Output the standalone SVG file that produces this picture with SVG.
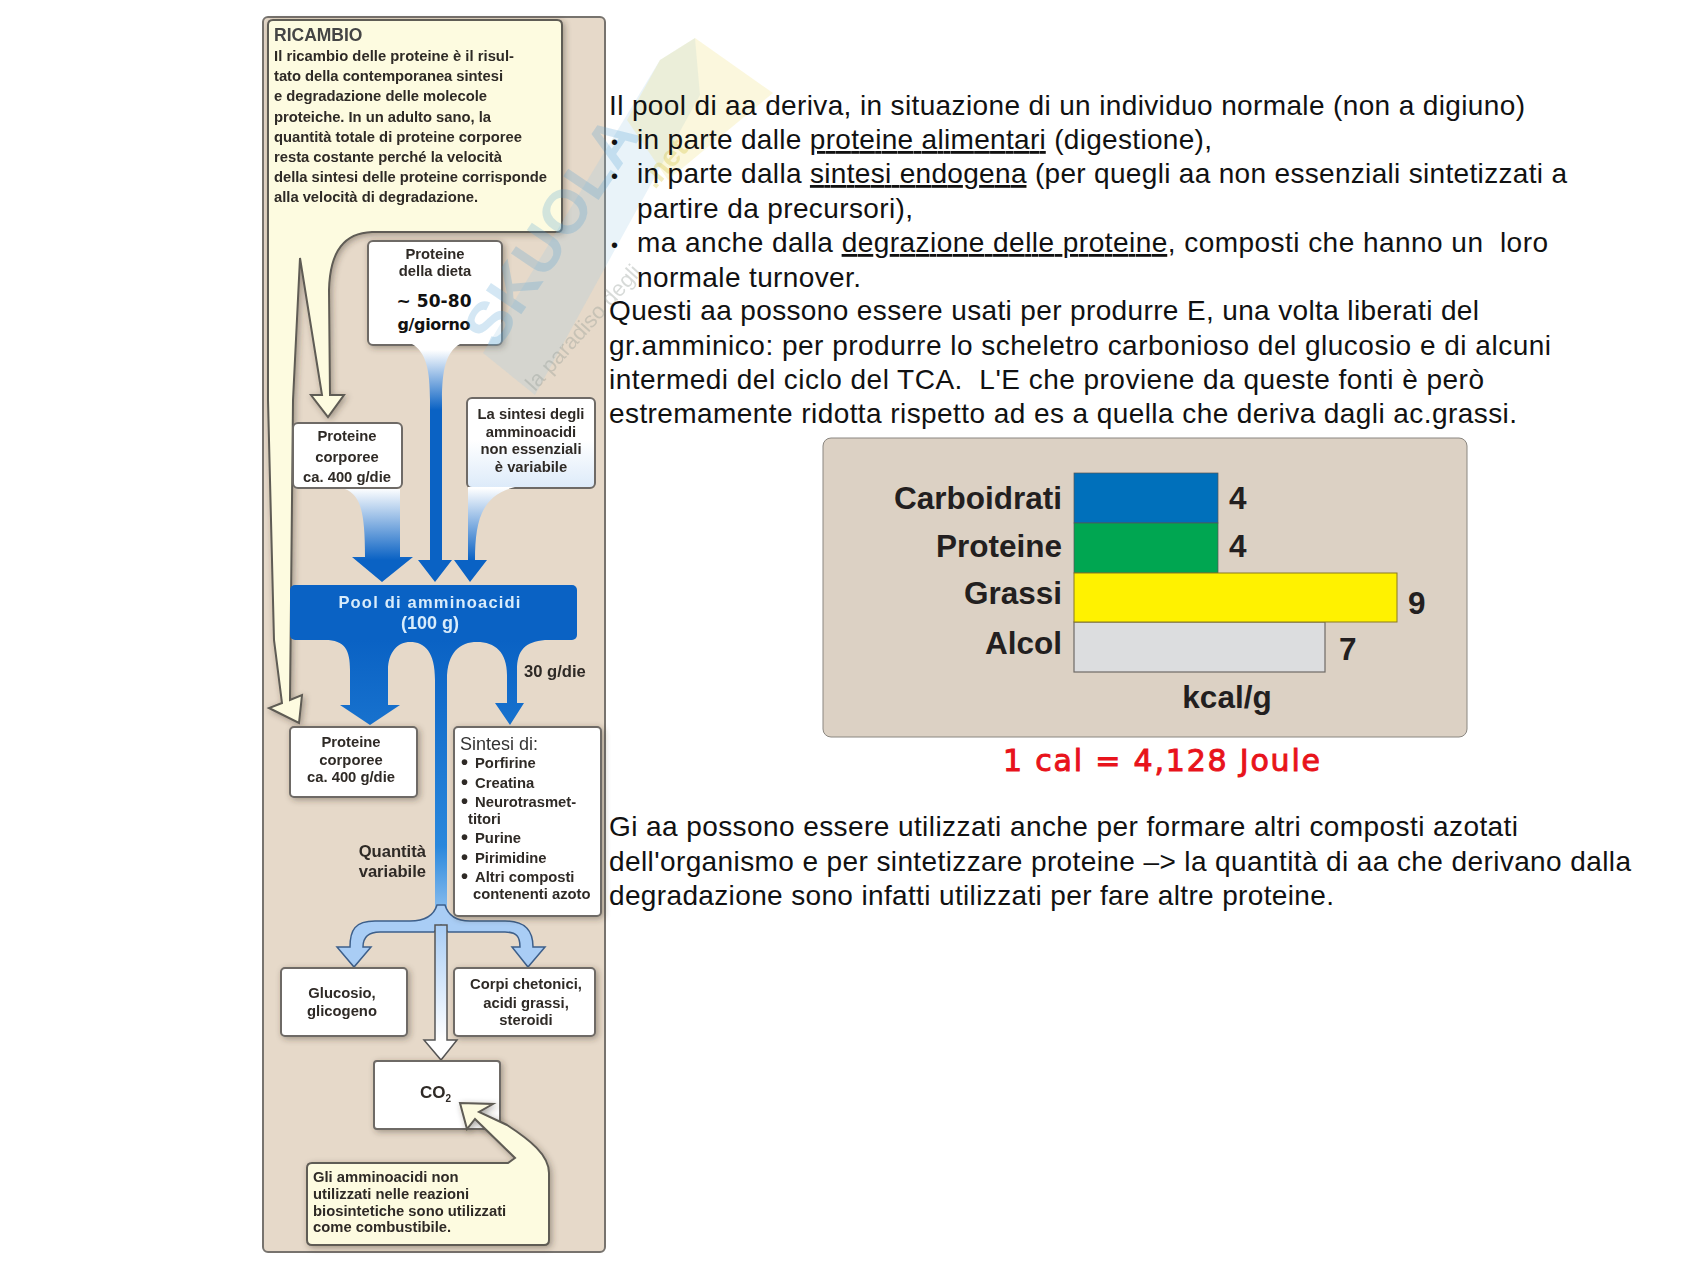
<svg xmlns="http://www.w3.org/2000/svg" width="1700" height="1275" viewBox="0 0 1700 1275">
<style>
text{font-family:"Liberation Sans",Arial,sans-serif;fill:#222}
.m{font-size:28px;fill:#111;white-space:pre}
.u{text-decoration:underline;text-decoration-skip-ink:none}
.d{font-size:20px;fill:#111}
.b{font-weight:bold;font-size:14.8px;fill:#2f2a26;filter:url(#bl)}
.l{font-weight:bold;font-size:16.6px;fill:#2f2a26;filter:url(#bl)}
.p{font-weight:bold;fill:#d8ecfb;filter:url(#bl)}
.c{text-anchor:middle}
.ch{font-weight:bold;font-size:31.5px;fill:#231f20}
.r{text-anchor:end}
.box{fill:#fff;stroke:#6e6a66;stroke-width:2;filter:url(#ds)}
.yel{fill:#fdfbe0;stroke:#5f5b54;stroke-width:2;filter:url(#ds)}
.cm{font-family:"DejaVu Sans",sans-serif;font-weight:bold}
.pool{fill:#0a62c4}
</style>
<defs>
<linearGradient id="gw" gradientUnits="userSpaceOnUse" x1="0" y1="488" x2="0" y2="560"><stop offset="0" stop-color="#fff"/><stop offset="1" stop-color="#0a62c4"/></linearGradient>
<linearGradient id="gt" gradientUnits="userSpaceOnUse" x1="0" y1="350" x2="0" y2="410"><stop offset="0" stop-color="#fff"/><stop offset="1" stop-color="#0a62c4"/></linearGradient>
<linearGradient id="gb" gradientUnits="userSpaceOnUse" x1="0" y1="440" x2="0" y2="498"><stop offset="0" stop-color="#fff"/><stop offset="1" stop-color="#d5e6f8"/></linearGradient>
<linearGradient id="gc" gradientUnits="userSpaceOnUse" x1="0" y1="925" x2="0" y2="1040"><stop offset="0" stop-color="#a9cdf5"/><stop offset="1" stop-color="#fff"/></linearGradient>
<linearGradient id="gs" gradientUnits="userSpaceOnUse" x1="0" y1="640" x2="0" y2="915"><stop offset="0" stop-color="#0a62c4"/><stop offset=".75" stop-color="#2a88dc"/><stop offset="1" stop-color="#8fc0ef"/></linearGradient>
<filter id="ds" x="-15%" y="-15%" width="130%" height="130%"><feDropShadow dx="2" dy="2" stdDeviation="3" flood-color="#3a3028" flood-opacity=".4"/></filter>
<filter id="bl" x="-5%" y="-20%" width="110%" height="140%"><feGaussianBlur stdDeviation="0.45"/></filter>
</defs>
<rect width="1700" height="1275" fill="#fff"/>

<g id="panel"><rect x="263" y="17" width="342" height="1235" rx="5" fill="#e6d9c9" stroke="#77736e" stroke-width="2"/></g>

<g id="ricambio">
<path class="yel" d="M268 25Q268 20 273 20H557Q562 20 562 25V227Q562 232 557 232H372C345 233 330 250 329 290L330 395H344L328 417L311 395H322L300 258L293 400L290 700L302 695L299 723L269 708L282 703L274 640L268 400Z"/>
<text x="274" y="41" style="font-size:17.5px;font-weight:bold;fill:#444;filter:url(#bl)">RICAMBIO</text>
<text class="b" x="274" y="61" textLength="240">Il ricambio delle proteine è il risul-</text>
<text class="b" x="274" y="81" textLength="229">tato della contemporanea sintesi</text>
<text class="b" x="274" y="101" textLength="213">e degradazione delle molecole</text>
<text class="b" x="274" y="122" textLength="217">proteiche. In un adulto sano, la</text>
<text class="b" x="274" y="142" textLength="248">quantità totale di proteine corporee</text>
<text class="b" x="274" y="162" textLength="228">resta costante perché la velocità</text>
<text class="b" x="274" y="182" textLength="273">della sintesi delle proteine corrisponde</text>
<text class="b" x="274" y="202" textLength="204">alla velocità di degradazione.</text>
</g>

<g id="proteine-dieta">
<rect class="box" x="368" y="241" width="134" height="104" rx="5"/>
<text class="b c" x="435" y="259">Proteine</text>
<text class="b c" x="435" y="276">della dieta</text>
<text class="cm c" x="434" y="307" style="font-size:17px;fill:#111" textLength="75">~ 50-80</text>
<text class="cm c" x="434" y="330" style="font-size:16px;fill:#111" textLength="73">g/giorno</text>
</g>

<g id="sintesi-variabile">
<rect x="467" y="398" width="128" height="90" rx="5" fill="url(#gb)" stroke="#6e6a66" stroke-width="2"/>
<text class="b c" x="531" y="419">La sintesi degli</text>
<text class="b c" x="531" y="437">amminoacidi</text>
<text class="b c" x="531" y="454">non essenziali</text>
<text class="b c" x="531" y="472">è variabile</text>
</g>

<g id="proteine-corporee-1">
<rect x="293" y="423" width="109" height="65" rx="5" fill="#fff" stroke="#6e6a66" stroke-width="2"/>
<text class="b c" x="347" y="441">Proteine</text>
<text class="b c" x="347" y="462">corporee</text>
<text class="b c" x="347" y="482">ca. 400 g/die</text>
</g>

<g id="connectors">
<path d="M412 344C426 352 430 370 430 400V560H418L435 582L452 560H442V400C442 370 446 352 460 344Z" fill="url(#gt)"/>
<path d="M468 487V560H454L470 582L487 560H475C475 520 482 495 515 487Z" fill="url(#gw)"/>
<path d="M345 489C360 495 365 510 365 557H352L382 582L413 557H400V489Z" fill="url(#gw)"/>
<path d="M290 640H325C345 640 350 650 350 670V705H340L370 725L400 705H388V670C388 652 398 642 410 642C425 642 435 652 435 680V925H447V680C447 652 460 642 477 642C495 642 507 652 507 675V703H495L510 725L524 703H517V670C517 650 525 642 545 640H577Z" fill="url(#gs)"/>
<path d="M437 905C434 915 425 921 410 921H375C355 921 350 930 350 947H337L354 967L371 947H363C363 937 368 932 380 932H434L441 925L448 932H505C517 932 520 937 520 947H512L528 967L545 947H533C533 930 525 921 505 921H470C455 921 448 915 445 905Z" fill="#a9cdf5" stroke="#3d5f8a" stroke-width="1.5"/>
<path d="M435 925H447V1040H457L441 1060L424 1040H435Z" fill="url(#gc)" stroke="#555" stroke-width="1.5"/>
</g>

<g id="pool">
<rect class="pool" x="290" y="585" width="287" height="55" rx="5"/>
<text class="p c" x="430" y="608" style="font-size:16.5px;letter-spacing:1.2px">Pool di amminoacidi</text>
<text class="p c" x="430" y="629" style="font-size:18px">(100 g)</text>
</g>

<g id="label-30"><text class="l" x="524" y="677">30 g/die</text></g>

<g id="proteine-corporee-2">
<rect class="box" x="290" y="727" width="127" height="70" rx="4"/>
<text class="b c" x="351" y="747">Proteine</text>
<text class="b c" x="351" y="765">corporee</text>
<text class="b c" x="351" y="782">ca. 400 g/die</text>
</g>

<g id="sintesi">
<rect class="box" x="454" y="727" width="147" height="189" rx="4"/>
<text x="460" y="750" style="font-size:18px;fill:#333;filter:url(#bl)">Sintesi di:</text>
<text class="b" x="461" y="769" style="font-size:20px">•</text><text class="b" x="475" y="768">Porfirine</text>
<text class="b" x="461" y="789" style="font-size:20px">•</text><text class="b" x="475" y="788">Creatina</text>
<text class="b" x="461" y="808" style="font-size:20px">•</text><text class="b" x="475" y="807">Neurotrasmet-</text>
<text class="b" x="468" y="824">titori</text>
<text class="b" x="461" y="844" style="font-size:20px">•</text><text class="b" x="475" y="843">Purine</text>
<text class="b" x="461" y="864" style="font-size:20px">•</text><text class="b" x="475" y="863">Pirimidine</text>
<text class="b" x="461" y="883" style="font-size:20px">•</text><text class="b" x="475" y="882">Altri composti</text>
<text class="b" x="473" y="899">contenenti azoto</text>
</g>

<g id="quantita">
<text class="l r" x="426" y="857">Quantità</text>
<text class="l r" x="426" y="877">variabile</text>
</g>

<g id="glucosio">
<rect class="box" x="281" y="968" width="126" height="68" rx="4"/>
<text class="b c" x="342" y="998">Glucosio,</text>
<text class="b c" x="342" y="1016">glicogeno</text>
</g>

<g id="corpi">
<rect class="box" x="454" y="968" width="141" height="68" rx="4"/>
<text class="b c" x="526" y="989">Corpi chetonici,</text>
<text class="b c" x="526" y="1008">acidi grassi,</text>
<text class="b c" x="526" y="1025">steroidi</text>
</g>

<g id="co2">
<rect class="box" x="374" y="1061" width="126" height="68" rx="3"/>
<text class="b" x="420" y="1098" style="font-size:17px">CO<tspan dy="4" style="font-size:10px">2</tspan></text>
</g>

<g id="combustibile">
<path class="yel" d="M312 1163H508L515 1158L475 1119L467 1129L460 1103L493 1104L479 1112L507 1125C530 1140 549 1155 549 1173V1240Q549 1245 544 1245H312Q307 1245 307 1240V1168Q307 1163 312 1163Z"/>
<text class="b" x="313" y="1182">Gli amminoacidi non</text>
<text class="b" x="313" y="1199">utilizzati nelle reazioni</text>
<text class="b" x="313" y="1216">biosintetiche sono utilizzati</text>
<text class="b" x="313" y="1232">come combustibile.</text>
</g>

<g id="watermark">
<path d="M483 353L660 60L695 38L700 95L535 395Z" fill="#9cc7e4" opacity=".22"/>
<path d="M660 60L695 38L773 93L668 180L627 120Z" fill="#f3e68f" opacity=".3"/>
<text transform="translate(496 352) rotate(-56)" style="font-size:62px;font-weight:bold;fill:#4f9ed2;opacity:.24">SKUOLA</text>
<text transform="translate(655 190) rotate(-50)" style="font-size:30px;font-weight:bold;fill:#d8c94e;opacity:.35">.net</text>
<text transform="translate(535 392) rotate(-48)" style="font-size:22px;fill:#8f9892;opacity:.35">la paradiso degli</text>
</g>

<g id="main-text">
<text class="m" x="609" y="115" textLength="916">Il pool di aa deriva, in situazione di un individuo normale (non a digiuno)</text>
<text class="d" x="611" y="149">•</text>
<text class="m" x="637" y="149" textLength="575">in parte dalle <tspan class="u">proteine alimentari</tspan> (digestione),</text>
<text class="d" x="611" y="183">•</text>
<text class="m" x="637" y="183" textLength="930">in parte dalla <tspan class="u">sintesi endogena</tspan> (per quegli aa non essenziali sintetizzati a</text>
<text class="m" x="637" y="218" textLength="276">partire da precursori),</text>
<text class="d" x="611" y="252">•</text>
<text class="m" x="637" y="252" textLength="911">ma anche dalla <tspan class="u">degrazione delle proteine</tspan>, composti che hanno un  loro</text>
<text class="m" x="637" y="287" textLength="224">normale turnover.</text>
<text class="m" x="609" y="320" textLength="870">Questi aa possono essere usati per produrre E, una volta liberati del</text>
<text class="m" x="609" y="355" textLength="942">gr.amminico: per produrre lo scheletro carbonioso del glucosio e di alcuni</text>
<text class="m" x="609" y="389" textLength="875">intermedi del ciclo del TCA.  L'E che proviene da queste fonti è però</text>
<text class="m" x="609" y="423" textLength="908">estremamente ridotta rispetto ad es a quella che deriva dagli ac.grassi.</text>
<text class="m" x="609" y="836" textLength="909">Gi aa possono essere utilizzati anche per formare altri composti azotati</text>
<text class="m" x="609" y="871" textLength="1022">dell'organismo e per sintetizzare proteine –&gt; la quantità di aa che derivano dalla</text>
<text class="m" x="609" y="905" textLength="725">degradazione sono infatti utilizzati per fare altre proteine.</text>
</g>

<g id="chart">
<rect x="823" y="438" width="644" height="299" rx="8" fill="#dcd1c4" stroke="#8a8680" stroke-width="1"/>
<rect x="1074" y="473" width="144" height="50" fill="#0070bb" stroke="#555" stroke-width=".7"/>
<rect x="1074" y="523" width="144" height="50" fill="#00a651" stroke="#555" stroke-width=".7"/>
<rect x="1074" y="622" width="251" height="50" fill="#dcdddf" stroke="#6e6a66" stroke-width="1.2"/>
<rect x="1074" y="573" width="323" height="49" fill="#fff200" stroke="#8a7a20" stroke-width="1"/>
<text class="ch r" x="1062" y="509">Carboidrati</text>
<text class="ch r" x="1062" y="557">Proteine</text>
<text class="ch r" x="1062" y="604">Grassi</text>
<text class="ch r" x="1062" y="654">Alcol</text>
<text class="ch" x="1229" y="509">4</text>
<text class="ch" x="1229" y="557">4</text>
<text class="ch" x="1408" y="614">9</text>
<text class="ch" x="1339" y="660">7</text>
<text class="ch c" x="1227" y="708">kcal/g</text>
</g>
<g id="joule"><text class="cm" x="1003" y="771" style="font-size:30px;font-weight:normal;fill:#e8131b;stroke:#e8131b;stroke-width:1" textLength="317">1 cal = 4,128 Joule</text></g>
</svg>
